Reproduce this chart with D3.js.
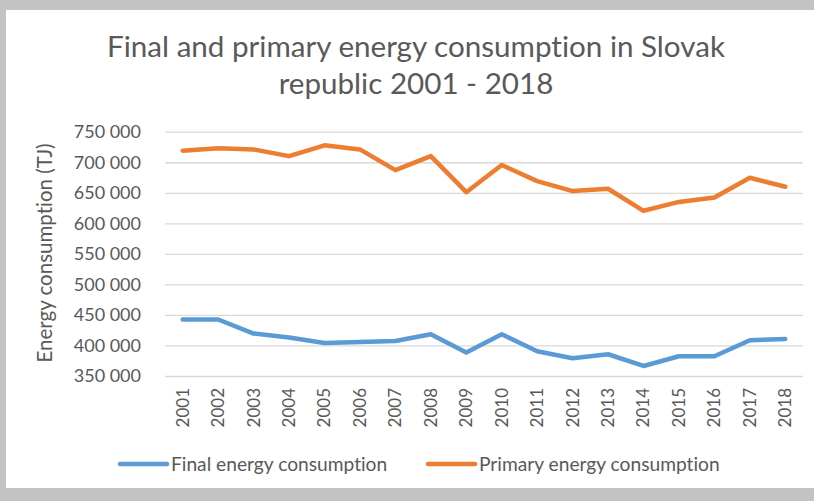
<!DOCTYPE html>
<html><head><meta charset="utf-8">
<script src="https://cdn.jsdelivr.net/npm/d3@7"></script>
<style>
html,body{margin:0;padding:0;background:#fff;}
svg{display:block;font-family:Lato,"Open Sans",sans-serif;font-variant-ligatures:none;}
</style></head>
<body>
<svg id="chart" width="814" height="501"></svg>
<script>
const years = ["2001","2002","2003","2004","2005","2006","2007","2008","2009","2010","2011","2012","2013","2014","2015","2016","2017","2018"];
const finalEnergy = [442500,442500,419500,413000,404000,405700,407400,418400,388400,418400,390500,379000,385600,366400,382300,382300,408500,410600];
const primaryEnergy = [719000,723000,721000,710000,727700,721000,687000,710000,651000,695400,669000,652800,656600,620500,635000,642300,674600,659800];
const yTicks = [350000,400000,450000,500000,550000,600000,650000,700000,750000];
const seriesNames = ["Final energy consumption","Primary energy consumption"];
const colors = ["#5b9bd5","#ed7d31"];
const titleLines = ["Final and primary energy consumption in Slovak","republic 2001 - 2018"];
const yLabel = "Energy consumption (TJ)";

const svg = d3.select("#chart");
const W = 814, H = 501;
const textColor = "#595959";

// frame
svg.append("rect").attr("x",0).attr("y",0).attr("width",W).attr("height",H).attr("fill","#c3c3c3");
svg.append("rect").attr("x",6).attr("y",10).attr("width",W-6).attr("height",478).attr("fill","#fff");

const x = d3.scaleBand().domain(years).range([165,803]);
const y = d3.scaleLinear().domain([350000,750000]).range([376,131.7]);

// title
svg.append("g").selectAll("text").data(titleLines).join("text")
  .attr("x",416).attr("y",(d,i)=>57+i*37)
  .attr("text-anchor","middle").attr("fill",textColor)
  .attr("font-size",29.6).text(d=>d);

// gridlines
const fmt = v => d3.format(",")(v).replace(/,/g," ");
const yAxis = d3.axisLeft(y).tickValues(yTicks).tickFormat(fmt).tickSize(-(803-165)).tickPadding(24);
const gy = svg.append("g").attr("transform","translate(165,0)").call(yAxis);
gy.select(".domain").remove();
gy.selectAll(".tick line").attr("stroke","#d9d9d9").attr("stroke-width",1.3);
gy.selectAll(".tick text").attr("fill",textColor).attr("font-size",18).attr("font-family","Lato");

// x axis labels
const xAxis = d3.axisBottom(x).tickSize(0).tickPadding(0);
const gx = svg.append("g").attr("transform","translate(0,376)").call(xAxis);
gx.select(".domain").remove();
gx.selectAll(".tick text")
  .attr("transform","rotate(-90)")
  .attr("x",-12).attr("y",0).attr("dy","0.35em")
  .attr("text-anchor","end")
  .attr("fill",textColor).attr("font-size",17).attr("font-family","Lato");

// y label
svg.append("text").attr("transform","translate(52,253) rotate(-90)")
  .attr("text-anchor","middle").attr("fill",textColor).attr("font-size",20.5).text(yLabel);

// lines
const line = d3.line().x((d,i)=>x(years[i])+x.bandwidth()/2).y(d=>y(d));
[finalEnergy,primaryEnergy].forEach((s,k)=>{
  svg.append("path").datum(s).attr("d",line).attr("fill","none")
    .attr("stroke",colors[k]).attr("stroke-width",4.5)
    .attr("stroke-linejoin","round").attr("stroke-linecap","round");
});

// legend
const legX = [120,428];
const lg = svg.append("g");
seriesNames.forEach((n,k)=>{
  lg.append("line").attr("x1",legX[k]).attr("x2",legX[k]+47).attr("y1",464).attr("y2",464)
    .attr("stroke",colors[k]).attr("stroke-width",4.5).attr("stroke-linecap","round");
  lg.append("text").attr("x",legX[k]+51).attr("y",464).attr("dy","0.35em")
    .attr("fill",textColor).attr("font-size",19.2).text(n);
});
</script>
</body></html>
